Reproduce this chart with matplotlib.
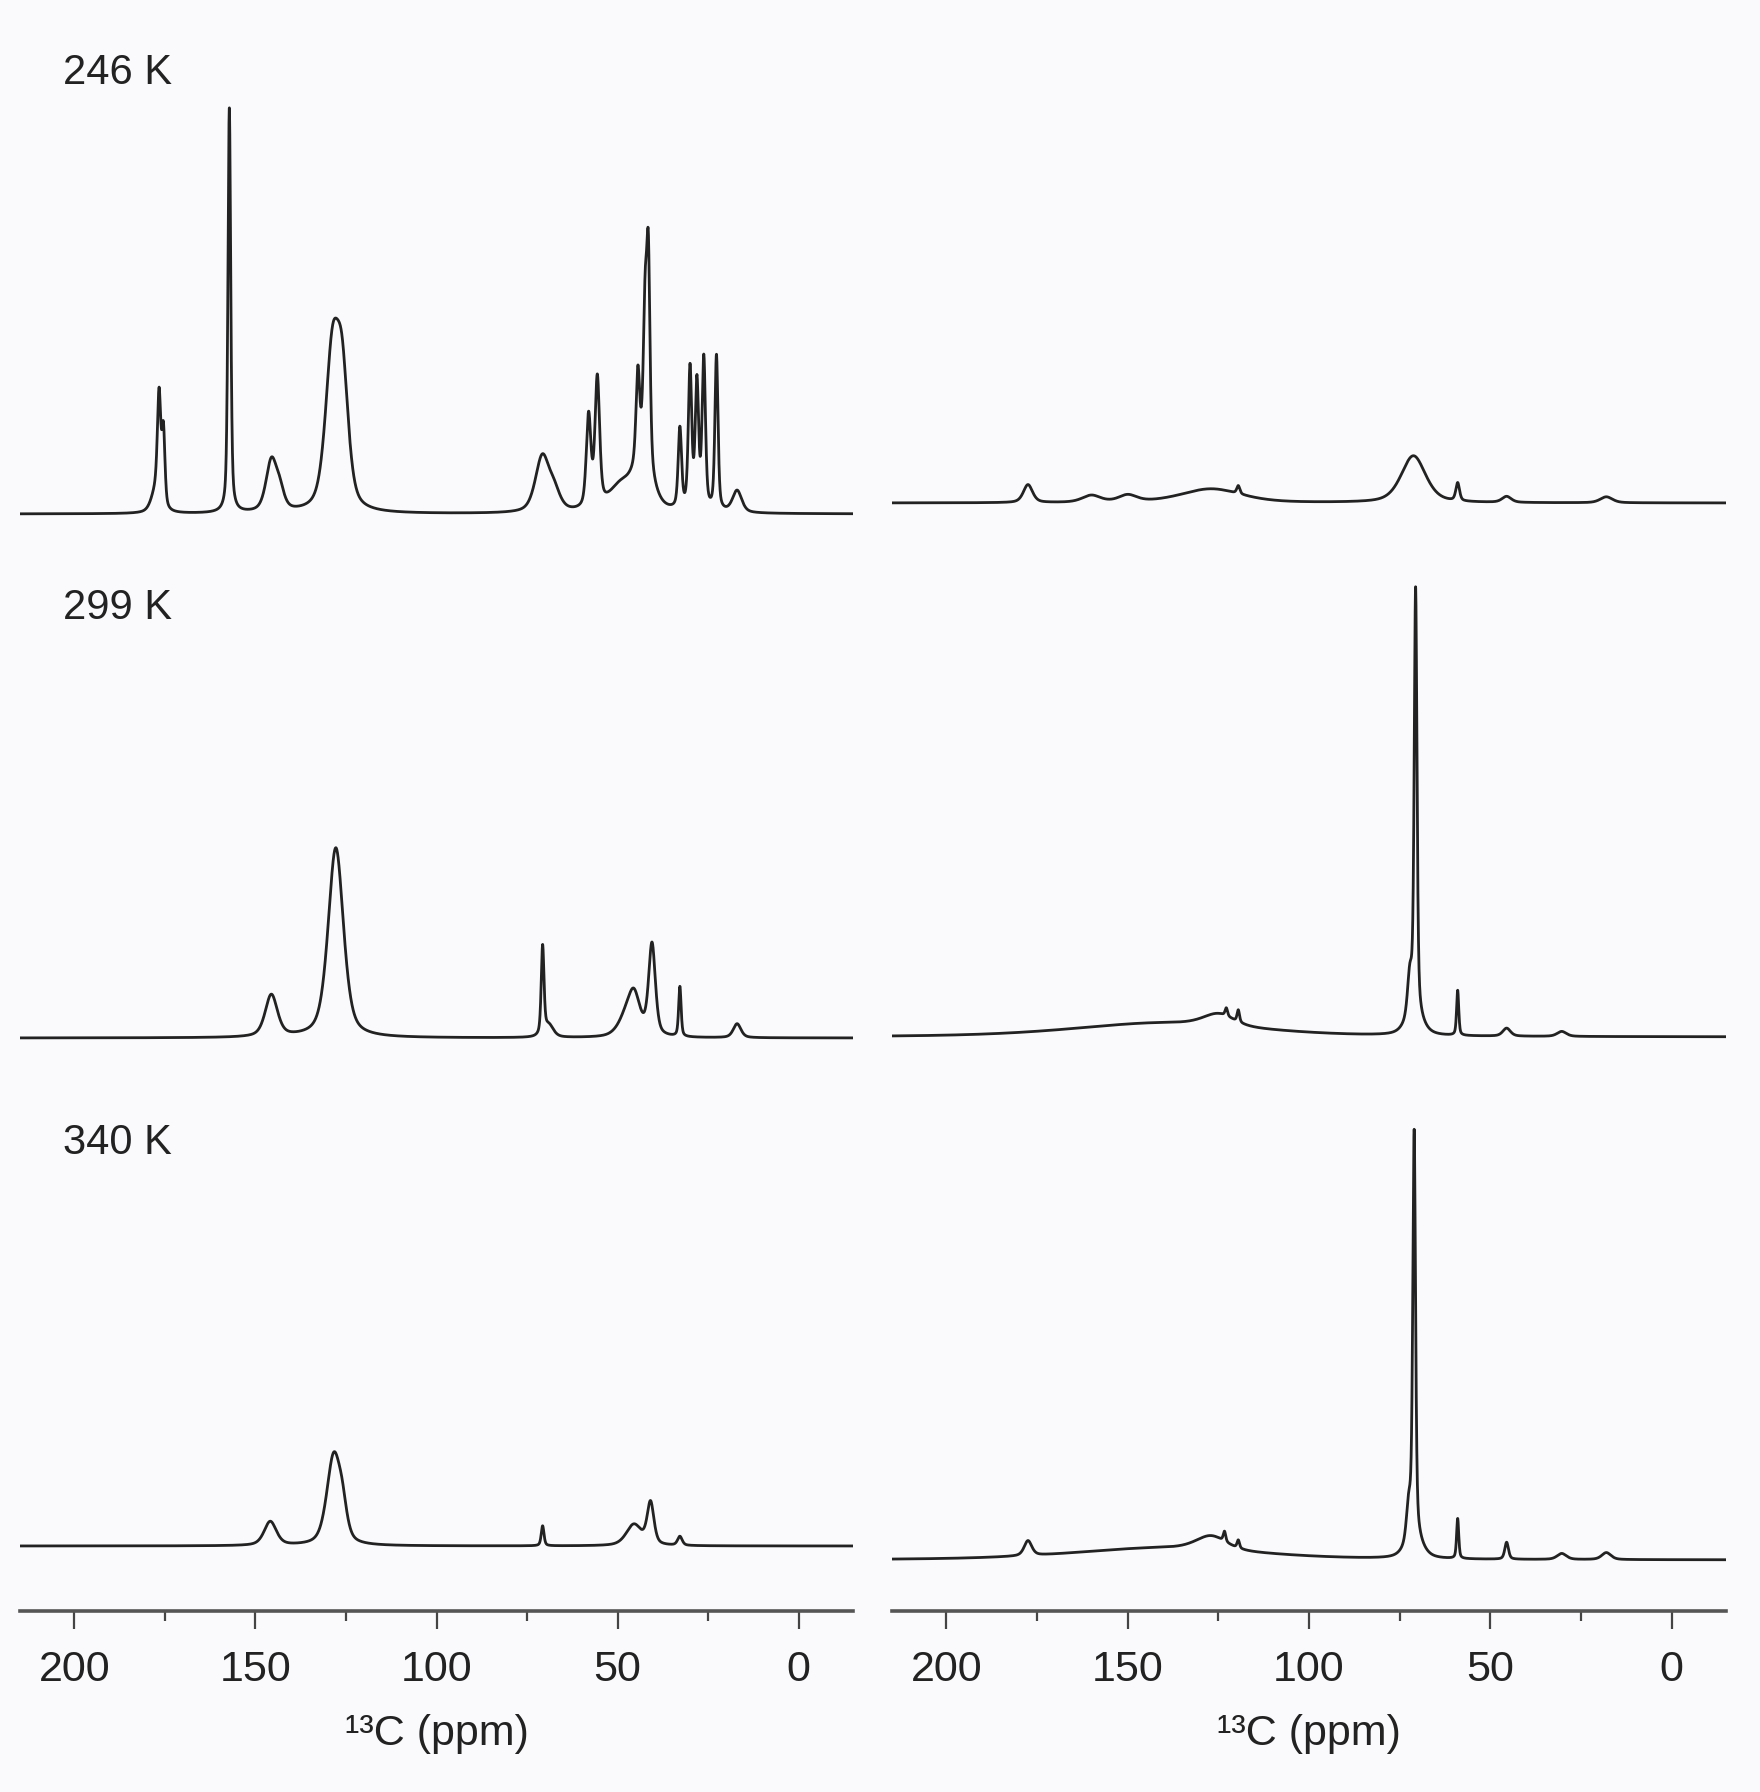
import numpy as np
import matplotlib
matplotlib.use("Agg")
import matplotlib.pyplot as plt
from matplotlib.ticker import MultipleLocator

# 13C spectra, peak tables: (ppm, height, fwhm) -- heights in arbitrary units
temps = ["246 K", "299 K", "340 K"]

left_246 = [(177.5, 20, 3.0), (176.6, 105, 1.1), (175.4, 75, 1.0),
            (157.2, 405, 0.9),
            (145.6, 50, 3.5), (143.3, 18, 3.0),
            (128.8, 150, 4.5), (126.0, 120, 4.0),
            (70.8, 55, 4.5), (67.5, 18, 4.0),
            (58.0, 92, 1.5), (55.6, 128, 1.5),
            (49.0, 25, 8.0), (43.0, 45, 6.0), (44.4, 90, 1.2), (42.4, 145, 1.2), (41.5, 200, 1.1),
            (32.8, 80, 1.1), (30.0, 140, 1.1), (28.1, 125, 1.1), (26.2, 150, 1.1), (22.7, 155, 1.0),
            (17.0, 22, 3.0)]
left_299 = [(145.6, 42, 4.0), (127.8, 190, 5.0),
            (70.7, 88, 0.9), (69.0, 12, 3.0),
            (48.0, 15, 5.0), (45.5, 40, 4.0), (40.5, 92, 2.2),
            (32.8, 50, 0.8), (17.0, 14, 2.5)]
left_340 = [(145.9, 24, 4.0), (128.4, 88, 4.5), (126.0, 25, 3.0),
            (70.7, 20, 0.9),
            (45.5, 21, 5.0), (40.9, 42, 2.2), (32.8, 9, 1.5)]

right_246 = [(177.5, 18, 3.0), (160.0, 7, 6.0), (150.0, 7, 6.0),
             (127.0, 14, 20.0), (119.5, 8, 1.0),
             (71.2, 47, 8.0), (59.0, 18, 1.2),
             (45.5, 6, 3.0), (18.0, 6, 4.0)]
right_299 = [(140.0, 14, 60.0), (125.0, 12, 10.0), (122.8, 8, 0.8), (119.5, 12, 0.8),
             (71.0, 20, 5.0), (72.2, 40, 1.5), (70.6, 425, 0.9),
             (59.0, 45, 0.7), (45.5, 8, 2.5), (30.3, 5, 3.0)]
right_340 = [(177.5, 15, 2.5), (140.0, 12, 60.0), (127.0, 14, 10.0), (123.3, 10, 0.8), (119.5, 8, 0.8),
             (71.0, 20, 5.0), (72.5, 35, 1.5), (71.0, 405, 0.9),
             (59.0, 40, 0.7), (45.5, 17, 1.2), (30.3, 6, 3.0), (18.0, 7, 3.0)]

# vertical stacking offsets of each trace
left_offsets = [1097, 573, 65]
right_offsets = [1108, 574, 51]

bg = "#fafafd"
ink = "#222222"
fam = ["Liberation Sans", "DejaVu Sans"]

ppm = np.linspace(215, -15, 6000)


def spectrum(peaks):
    # pseudo-voigt line shapes
    y = np.zeros_like(ppm)
    for c, h, w in peaks:
        d = (ppm - c) / (w / 2)
        lor = 1 / (1 + d**2)
        gau = np.exp(-np.log(2) * d**2)
        y += h * (0.5 * lor + 0.5 * gau)
    return y


fig = plt.figure(figsize=(17.6, 17.92), dpi=100, facecolor=bg)
ax_l = fig.add_axes([20 / 1760, 181 / 1792, 833 / 1760, 1611 / 1792])
ax_r = fig.add_axes([892 / 1760, 181 / 1792, 834 / 1760, 1611 / 1792])

for ax, traces, offs in [(ax_l, [left_246, left_299, left_340], left_offsets),
                         (ax_r, [right_246, right_299, right_340], right_offsets)]:
    ax.set_facecolor(bg)
    for pk, off in zip(traces, offs):
        ax.plot(ppm, spectrum(pk) + off, color=ink, lw=2.0)
    ax.set_xlim(215, -15)
    ax.set_ylim(0, 1611)
    for s in ["top", "left", "right"]:
        ax.spines[s].set_visible(False)
    ax.spines["bottom"].set_color("#555555")
    ax.spines["bottom"].set_linewidth(2.6)
    ax.set_yticks([])
    ax.xaxis.set_major_locator(MultipleLocator(50))
    ax.xaxis.set_minor_locator(MultipleLocator(25))
    ax.tick_params(axis="x", which="major", length=13, width=1.6, color="#444444",
                   pad=15, labelsize=31, labelcolor="#222222")
    ax.tick_params(axis="x", which="minor", length=7, width=1.6, color="#444444")
    for lab in ax.get_xticklabels():
        lab.set_family(fam)
    ax.set_xlabel("¹³C (ppm)", fontsize=31, family=fam, color="#222222", labelpad=17)

label_y = [73, 608, 1143]
for t, yy in zip(temps, label_y):
    fig.text(63 / 1760, 1 - yy / 1792, t, fontsize=30, family=fam, color="#222222",
             ha="left", va="center")

fig.savefig("out.png", dpi=100, facecolor=bg)
